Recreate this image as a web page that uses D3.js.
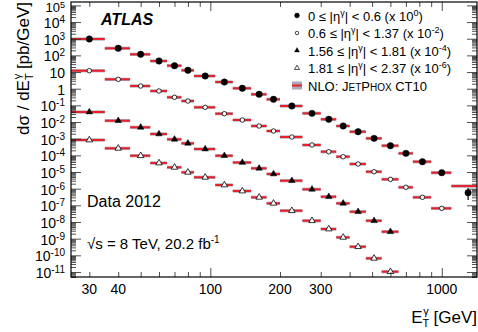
<!DOCTYPE html>
<html>
<head>
<meta charset="utf-8">
<script src="https://cdn.jsdelivr.net/npm/d3@7"></script>
<style>
  body { margin: 0; background: #fff; }
  svg text { font-family: "Liberation Sans", Arial, Helvetica, sans-serif; fill: #000; }
</style>
</head>
<body>
<svg id="chart" width="478" height="332"></svg>
<script>
// E_T bin edges [GeV]
const binEdges = [25, 35, 45, 55, 65, 75, 85, 105, 125, 150, 175, 200, 250, 300, 350, 400, 470, 550, 650, 750, 900, 1100, 1500];

// legend pieces
const etaLow = ['0', '0.6', '1.56', '1.81'];
const etaHigh = ['0.6', '1.37', '1.81', '2.37'];
const scaleExp = [0, -2, -4, -6];

// measured dsigma/dET [pb/GeV], before the plotting scale factor
const dataEta1 = [962, 266, 116, 46, 24, 12.7, 5.78, 2.52, 1.06, 0.461, 0.231, 0.0916, 0.0333, 0.0146, 0.00577, 0.00262, 0.00105, 3.79e-4, 1.32e-4, 4.15e-5, 9.08e-6, 5.71e-7];
const dataEta2 = [1200, 366, 145, 72.8, 30.5, 18.3, 7.64, 3.16, 1.32, 0.577, 0.289, 0.126, 0.0418, 0.0165, 0.00828, 0.00302, 0.00104, 3.65e-4, 1.21e-4, 3.03e-5, 6.62e-6];
const dataEta3 = [399, 120, 48.2, 19.1, 9.18, 5.28, 2.40, 0.951, 0.372, 0.167, 0.0759, 0.0301, 0.00916, 0.00329, 0.00132, 4.14e-4, 1.19e-4, 2.61e-5];
const dataEta4 = [834, 264, 95.1, 34.7, 19.1, 9.6, 4.81, 1.66, 0.723, 0.303, 0.132, 0.0475, 0.0119, 0.00379, 0.00120, 3.28e-4, 6.61e-5, 1.04e-5];

// NLO JetPhox CT10 prediction
const nloEta1 = [962, 266, 116, 46, 24, 12.7, 5.78, 2.52, 1.06, 0.461, 0.231, 0.0916, 0.0333, 0.0146, 0.00577, 0.00262, 0.00105, 3.79e-4, 1.32e-4, 4.15e-5, 9.08e-6, 1.44e-6];
const nloEta2 = [1200, 366, 145, 72.8, 30.5, 18.3, 7.64, 3.16, 1.32, 0.577, 0.289, 0.126, 0.0418, 0.0165, 0.00828, 0.00302, 0.00104, 3.65e-4, 1.21e-4, 3.03e-5, 6.62e-6];
const nloEta3 = [399, 120, 48.2, 19.1, 9.18, 5.28, 2.40, 0.951, 0.372, 0.167, 0.0759, 0.0301, 0.00916, 0.00329, 0.00132, 4.14e-4, 1.19e-4, 2.61e-5];
const nloEta4 = [834, 264, 95.1, 34.7, 19.1, 9.6, 4.81, 1.66, 0.723, 0.303, 0.132, 0.0475, 0.0119, 0.00379, 0.00120, 3.28e-4, 6.61e-5, 1.04e-5];
const nloRelUnc = 0.25;

// only visible error bar: last bin of the central region
const lastBinErr = { up: 1.05e-6, down: 2.1e-7 };

const xMinorTicks = [30, 40, 50, 60, 70, 80, 90, 200, 300, 400, 500, 600, 700, 800, 900];
const xMajorTicks = [100, 1000];
const xTickLabels = [30, 40, 100, 200, 300, 1000];
const yMajorTicks = [1e-11, 1e-10, 1e-9, 1e-8, 1e-7, 1e-6, 1e-5, 1e-4, 1e-3, 1e-2, 1e-1, 1, 10, 1e2, 1e3, 1e4, 1e5];

const series = [
  { data: dataEta1, nlo: nloEta1, shape: d3.symbolCircle, size: 32, filled: true },
  { data: dataEta2, nlo: nloEta2, shape: d3.symbolCircle, size: 16, filled: false },
  { data: dataEta3, nlo: nloEta3, shape: d3.symbolTriangle, size: 18, filled: true },
  { data: dataEta4, nlo: nloEta4, shape: d3.symbolTriangle, size: 18, filled: false },
];

const margin = { top: 2, right: 1, bottom: 55, left: 71 };
const W = 478, H = 332;
const width = W - margin.left - margin.right;
const height = H - margin.top - margin.bottom;

const svg = d3.select('#chart');
const g = svg.append('g').attr('transform', `translate(${margin.left},${margin.top})`);

const x = d3.scaleLog().domain([25, 1420]).range([0, width]);
const y = d3.scaleLog().domain([5e-12, 1.6e5]).range([height, 0]);

g.append('defs').append('clipPath').attr('id', 'plotClip')
  .append('rect').attr('width', width).attr('height', height);

const plot = g.append('g').attr('clip-path', 'url(#plotClip)');

// NLO bands + lines
series.forEach((s, k) => {
  const f = Math.pow(10, scaleExp[k]);
  s.nlo.forEach((v, i) => {
    const x0 = x(binEdges[i]), x1 = x(binEdges[i + 1]);
    const val = v * f;
    plot.append('rect')
      .attr('x', x0).attr('width', x1 - x0)
      .attr('y', y(val * (1 + nloRelUnc)))
      .attr('height', y(val / (1 + nloRelUnc)) - y(val * (1 + nloRelUnc)))
      .attr('fill', '#a7acb8');
    plot.append('line')
      .attr('x1', x0).attr('x2', x1)
      .attr('y1', y(val)).attr('y2', y(val))
      .attr('stroke', '#e8202a').attr('stroke-width', 2);
  });
});

// error bar
{
  const i = dataEta1.length - 1;
  const xc = x((binEdges[i] + binEdges[i + 1]) / 2);
  plot.append('line')
    .attr('x1', xc).attr('x2', xc)
    .attr('y1', y(lastBinErr.up)).attr('y2', y(lastBinErr.down))
    .attr('stroke', '#000').attr('stroke-width', 1.2);
}

// data markers
series.forEach((s, k) => {
  const f = Math.pow(10, scaleExp[k]);
  const sym = d3.symbol().type(s.shape).size(s.size);
  plot.selectAll(null)
    .data(s.data)
    .enter()
    .append('path')
    .attr('d', sym)
    .attr('transform', (d, i) => `translate(${x((binEdges[i] + binEdges[i + 1]) / 2)},${y(d * f)})`)
    .attr('fill', s.filled ? '#000' : '#fff')
    .attr('stroke', '#000')
    .attr('stroke-width', s.filled ? 0.5 : 0.8);
});

// axes: ticks inside on all four sides
const yMinorTicks = y.ticks(200).filter((t) => !yMajorTicks.includes(t));

function tickAxis(axis, transform) {
  g.append('g')
    .attr('transform', transform)
    .call(axis)
    .call((a) => a.select('.domain').remove())
    .call((a) => a.selectAll('.tick line').attr('stroke', '#222').attr('stroke-width', 0.8));
}

tickAxis(d3.axisBottom(x).tickValues(xMinorTicks).tickSize(-5).tickFormat(''), `translate(0,${height})`);
tickAxis(d3.axisBottom(x).tickValues(xMajorTicks).tickSize(-9).tickFormat(''), `translate(0,${height})`);
tickAxis(d3.axisTop(x).tickValues(xMinorTicks).tickSize(-5).tickFormat(''), 'translate(0,0)');
tickAxis(d3.axisTop(x).tickValues(xMajorTicks).tickSize(-9).tickFormat(''), 'translate(0,0)');
tickAxis(d3.axisLeft(y).tickValues(yMinorTicks).tickSize(-5).tickFormat(''), 'translate(0,0)');
tickAxis(d3.axisLeft(y).tickValues(yMajorTicks).tickSize(-10).tickFormat(''), 'translate(0,0)');
tickAxis(d3.axisRight(y).tickValues(yMinorTicks).tickSize(-5).tickFormat(''), `translate(${width},0)`);
tickAxis(d3.axisRight(y).tickValues(yMajorTicks).tickSize(-10).tickFormat(''), `translate(${width},0)`);

g.append('rect')
  .attr('width', width).attr('height', height)
  .attr('fill', 'none').attr('stroke', '#000').attr('stroke-width', 1.2);

// tick labels
g.selectAll('.xlab')
  .data(xTickLabels)
  .enter()
  .append('text')
  .attr('x', (d) => x(d))
  .attr('y', height + 17)
  .attr('text-anchor', 'middle')
  .style('font-size', '14px')
  .text((d) => d);

yMajorTicks.forEach((v) => {
  const e = Math.round(Math.log10(v));
  const top = e === 5; // squeezed a little so it stays on the page
  const t = g.append('text')
    .attr('x', -6).attr('y', top ? 10 : y(v) + 6)
    .attr('text-anchor', 'end')
    .style('font-size', top ? '13px' : '14px');
  if (e === 0) t.text('1');
  else if (e === 1) t.text('10');
  else {
    t.append('tspan').text('10');
    t.append('tspan').attr('dy', top ? -4 : -5).style('font-size', top ? '9px' : '10px').text(e);
  }
});

// axis titles
const yt = svg.append('text')
  .attr('transform', 'translate(29,2) rotate(-90)')
  .attr('text-anchor', 'end')
  .style('font-size', '17px');
yt.append('tspan').text('dσ / dE');
yt.append('tspan').attr('dy', 4).style('font-size', '11px').text('T');
yt.append('tspan').attr('dx', -6).attr('dy', -12).style('font-size', '11px').text('γ');
yt.append('tspan').attr('dy', 8).text(' [pb/GeV]');

const xt = svg.append('text')
  .attr('x', W - 1).attr('y', 323)
  .attr('text-anchor', 'end')
  .style('font-size', '17px');
xt.append('tspan').text('E');
xt.append('tspan').attr('dy', 4).style('font-size', '11px').text('T');
xt.append('tspan').attr('dx', -6).attr('dy', -12).style('font-size', '11px').text('γ');
xt.append('tspan').attr('dy', 8).text(' [GeV]');

// labels on the plot
svg.append('text')
  .attr('x', 101).attr('y', 25)
  .style('font-size', '16px').style('font-weight', 'bold').style('font-style', 'italic')
  .text('ATLAS');

svg.append('text')
  .attr('x', 87).attr('y', 207)
  .style('font-size', '16px')
  .text('Data 2012');

const lumi = svg.append('text')
  .attr('x', 87).attr('y', 249)
  .style('font-size', '15px');
lumi.append('tspan').text('√s = 8 TeV, 20.2 fb');
lumi.append('tspan').attr('dy', -6).style('font-size', '10px').text('-1');

// legend
const legend = svg.append('g').attr('transform', 'translate(297,15.5)');
series.forEach((s, k) => {
  const row = legend.append('g').attr('transform', `translate(0,${k * 17.5})`);
  row.append('path')
    .attr('d', d3.symbol().type(s.shape).size(s.size * 0.6))
    .attr('fill', s.filled ? '#000' : '#fff')
    .attr('stroke', '#000').attr('stroke-width', s.filled ? 0.4 : 0.7);
  const t = row.append('text').attr('x', 11).attr('y', 5).style('font-size', '13px');
  t.append('tspan').text(`${etaLow[k]} ≤ |η`);
  t.append('tspan').attr('dy', -5).style('font-size', '9px').text('γ');
  t.append('tspan').attr('dy', 5).text(`| < ${etaHigh[k]} (x 10`);
  t.append('tspan').attr('dy', -5).style('font-size', '9px').text(scaleExp[k]);
  t.append('tspan').attr('dy', 5).text(')');
});
{
  const row = legend.append('g').attr('transform', `translate(0,${4 * 17.5})`);
  row.append('rect').attr('x', -5).attr('y', -4).attr('width', 10).attr('height', 8).attr('fill', '#a7acb8');
  row.append('line').attr('x1', -5).attr('x2', 5).attr('stroke', '#e8202a').attr('stroke-width', 2);
  const t = row.append('text').attr('x', 11).attr('y', 5).style('font-size', '13px');
  t.append('tspan').text('NLO: J');
  t.append('tspan').style('font-size', '10px').text('ET');
  t.append('tspan').text('P');
  t.append('tspan').style('font-size', '10px').text('HOX');
  t.append('tspan').text(' CT10');
}
</script>
</body>
</html>
